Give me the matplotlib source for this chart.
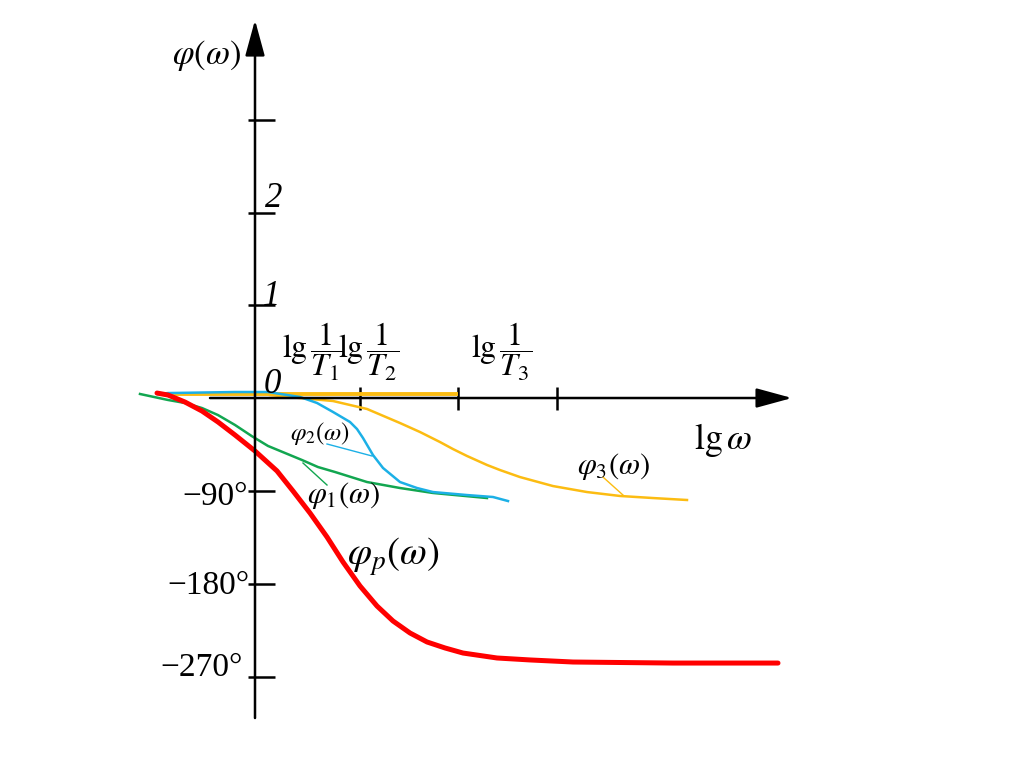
import matplotlib
matplotlib.use('Agg')
import matplotlib.pyplot as plt

plt.rcParams['mathtext.fontset'] = 'stix'
plt.rcParams['font.family'] = ['Liberation Serif', 'DejaVu Serif']

# curves: x in lg(omega) units, y in degrees
red_x = [-0.98, -0.87, -0.70, -0.53, -0.37, -0.20, 0.00, 0.22, 0.38, 0.55, 0.72, 0.88, 1.05, 1.22,
         1.38, 1.55, 1.72, 1.90, 2.08, 2.42, 2.75, 3.18, 4.18, 5.23]
red_y = [4.8, 2.9, -3.9, -12.6, -23.2, -35.8, -51.3, -70.6, -90.0, -111.3, -134.5, -158.7, -181.9, -201.3,
         -215.8, -227.4, -236.1, -241.9, -246.8, -251.6, -253.5, -255.5, -256.5, -256.5]

green_x = [-1.15, -0.87, -0.70, -0.53, -0.37, -0.20, -0.03, 0.13, 0.30, 0.47, 0.63, 0.80, 1.12, 1.45, 1.78, 2.32]
green_y = [3.9, -1.9, -4.8, -9.7, -16.5, -26.1, -37.0, -46.4, -53.2, -60.0, -66.8, -71.6, -81.3, -87.1, -91.9, -96.8]

blue_x = [-0.97, -0.87, -0.20, 0.13, 0.45, 0.62, 0.78, 0.95, 1.02, 1.08, 1.18, 1.28, 1.45, 1.62, 1.78, 2.12, 2.38, 2.53]
blue_y = [3.9, 4.8, 5.8, 5.8, 1.0, -4.8, -13.5, -23.2, -30.0, -38.7, -55.2, -67.7, -81.3, -87.1, -91.0, -93.9, -95.8, -99.7]

yellow_flat_x = [-0.95, 2.03]
yellow_flat_y = [3.9, 3.9]
yellow_x = [0.15, 0.45, 0.78, 1.12, 1.45, 1.65, 1.85, 1.98, 2.12, 2.32, 2.45, 2.65, 2.98, 3.32, 3.65, 3.98, 4.32]
yellow_y = [2.9, 0.0, -2.9, -10.6, -24.2, -32.9, -42.6, -49.4, -56.1, -64.8, -69.7, -76.5, -85.2, -91.0, -94.8, -96.8, -98.7]

# leader lines from the labels to the curves
lead_green = ([0.48, 0.72], [-62.9, -84.2])
lead_blue = ([0.72, 1.17], [-44.5, -56.1])
lead_yellow = ([3.48, 3.68], [-76.5, -93.9])

ytick_pos = [269, 179, 90, -90, -180, -270]
xtick_pos = [1.05, 2.03, 3.02]

fig = plt.figure(figsize=(10.24, 7.67), dpi=100)
ax = fig.add_axes([0, 0, 1, 1])
ax.set_xlim(-2.55, 7.69)
ax.set_ylim(-357.1, 385.2)
ax.axis('off')

# axes with arrows
arr = dict(arrowstyle='-|>,head_length=1.1,head_width=0.3', lw=1.8, color='k',
           mutation_scale=20, shrinkA=0, shrinkB=0)
ax.annotate('', xy=(0, 365.8), xytext=(0, -309.7), arrowprops=arr)
ax.annotate('', xy=(5.37, 0), xytext=(-0.45, 0), arrowprops=arr)
ax.hlines(ytick_pos, -0.07, 0.20, color='k', lw=1.8)
ax.vlines(xtick_pos, -11.6, 10.6, color='k', lw=1.8)

ax.plot(yellow_flat_x, yellow_flat_y, color='#fcbc12', lw=2.8, solid_capstyle='butt')
ax.plot(yellow_x, yellow_y, color='#fcbc12', lw=1.8)
ax.plot(green_x, green_y, color='#12a650', lw=1.8)
ax.plot(blue_x, blue_y, color='#1cb0e6', lw=1.8)
ax.plot(red_x, red_y, color='#ff0000', lw=3.6, solid_capstyle='round', solid_joinstyle='round')

ax.plot(*lead_green, color='#12a650', lw=1.0)
ax.plot(*lead_blue, color='#1cb0e6', lw=1.0)
ax.plot(*lead_yellow, color='#fcbc12', lw=1.0)

# labels
ax.text(-0.49, 331.9, r'$\varphi(\omega)$', fontsize=25, ha='center', va='center')
ax.text(0.19, 193.5, '2', fontsize=25, style='italic', ha='center', va='center')
ax.text(0.16, 98.7, '1', fontsize=25, style='italic', ha='center', va='center')
ax.text(0.17, 13.5, '0', fontsize=25, style='italic', ha='center', va='center')
ax.text(0.58, 44.5, r'$\mathrm{lg}\,\dfrac{1}{T_1}$', fontsize=23, ha='center', va='center')
ax.text(1.14, 44.5, r'$\mathrm{lg}\,\dfrac{1}{T_2}$', fontsize=23, ha='center', va='center')
ax.text(2.47, 44.5, r'$\mathrm{lg}\,\dfrac{1}{T_3}$', fontsize=23, ha='center', va='center')
ax.text(4.68, -40.6, r'$\mathrm{lg}\,\omega$', fontsize=26, ha='center', va='center')
ax.text(0.65, -34.8, r'$\varphi_2(\omega)$', fontsize=18, ha='center', va='center')
ax.text(0.88, -94.8, r'$\varphi_1(\omega)$', fontsize=22, ha='center', va='center')
ax.text(3.58, -65.8, r'$\varphi_3(\omega)$', fontsize=22, ha='center', va='center')
ax.text(1.38, -153.9, r'$\varphi_p(\omega)$', fontsize=28, ha='center', va='center')
ax.text(-0.07, -95.8, '\u221290\u00b0', fontsize=24, ha='right', va='center')
ax.text(-0.05, -181.9, '\u2212180\u00b0', fontsize=24, ha='right', va='center')
ax.text(-0.12, -261.3, '\u2212270\u00b0', fontsize=24, ha='right', va='center')

plt.savefig('out.png', dpi=100)
